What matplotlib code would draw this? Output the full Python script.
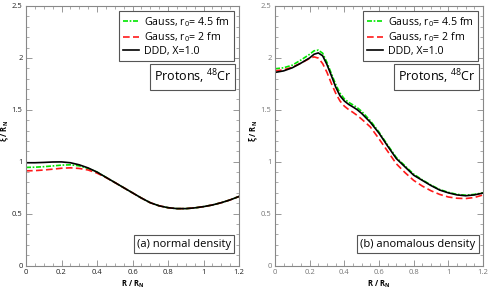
import numpy as np
import matplotlib
matplotlib.use("Agg")
import matplotlib.pyplot as plt
from matplotlib.ticker import MultipleLocator, FormatStrFormatter

plt.rcParams['font.family'] = ['Open Sans', 'DejaVu Sans']
plt.rcParams['mathtext.fontset'] = 'custom'
plt.rcParams['mathtext.rm'] = 'Open Sans'
plt.rcParams['mathtext.it'] = 'Open Sans'
plt.rcParams['mathtext.bf'] = 'Open Sans:bold'

# (a) normal density
r_a = [0, 0.05, 0.1, 0.15, 0.2, 0.25, 0.3, 0.35, 0.4, 0.45, 0.5, 0.55, 0.6,
       0.65, 0.7, 0.75, 0.8, 0.85, 0.9, 0.95, 1.0, 1.05, 1.1, 1.15, 1.2]
ddd_a = [0.99, 0.99, 0.993, 0.997, 0.998, 0.99, 0.97, 0.94, 0.90, 0.85, 0.80,
         0.75, 0.70, 0.65, 0.605, 0.575, 0.557, 0.548, 0.548, 0.555, 0.567,
         0.583, 0.605, 0.632, 0.665]
gauss45_a = [0.945, 0.947, 0.952, 0.959, 0.967, 0.97, 0.96, 0.935, 0.90, 0.85, 0.80,
             0.75, 0.70, 0.65, 0.605, 0.575, 0.557, 0.548, 0.548, 0.555, 0.567,
             0.583, 0.605, 0.632, 0.665]
gauss2_a = [0.912, 0.914, 0.92, 0.928, 0.937, 0.941, 0.935, 0.92, 0.89, 0.848, 0.80,
            0.75, 0.70, 0.65, 0.605, 0.575, 0.557, 0.548, 0.548, 0.555, 0.567,
            0.583, 0.605, 0.632, 0.665]

# (b) anomalous density
r_b = [0, 0.05, 0.1, 0.15, 0.2, 0.225, 0.25, 0.275, 0.3, 0.325, 0.35, 0.375, 0.4,
       0.425, 0.45, 0.475, 0.5, 0.55, 0.6, 0.65, 0.7, 0.75, 0.8, 0.85, 0.9, 0.95,
       1.0, 1.05, 1.1, 1.15, 1.2]
ddd_b = [1.86, 1.875, 1.905, 1.95, 2.0, 2.035, 2.048, 2.02, 1.935, 1.83, 1.72, 1.635,
         1.585, 1.552, 1.527, 1.50, 1.465, 1.38, 1.275, 1.15, 1.03, 0.95, 0.87, 0.82,
         0.77, 0.727, 0.70, 0.68, 0.672, 0.68, 0.698]
gauss45_b = [1.895, 1.905, 1.93, 1.98, 2.035, 2.068, 2.075, 2.045, 1.955, 1.85, 1.745,
             1.66, 1.605, 1.572, 1.547, 1.52, 1.485, 1.395, 1.285, 1.16, 1.04, 0.96,
             0.88, 0.825, 0.775, 0.732, 0.705, 0.685, 0.677, 0.685, 0.70]
gauss2_b = [1.875, 1.885, 1.91, 1.95, 1.995, 2.01, 1.998, 1.945, 1.86, 1.755, 1.66,
            1.585, 1.535, 1.502, 1.475, 1.445, 1.41, 1.335, 1.22, 1.10, 0.98, 0.895,
            0.82, 0.765, 0.72, 0.685, 0.66, 0.648, 0.645, 0.655, 0.68]

labels = ["Gauss, r$_0$= 4.5 fm", "Gauss, r$_0$= 2 fm", "DDD, X=1.0"]

fig = plt.figure(figsize=(4.91, 2.95), dpi=100)
ax1 = fig.add_axes([26/491, 29.5/295, 213/491, 259.5/295])
ax2 = fig.add_axes([275/491, 29.5/295, 208/491, 259.5/295])

panels = [
    (ax1, r_a, gauss45_a, gauss2_a, ddd_a, "(a) normal density", "#222222"),
    (ax2, r_b, gauss45_b, gauss2_b, ddd_b, "(b) anomalous density", "#777777"),
]

for ax, r, g45, g2, ddd, tag, tickcol in panels:
    ax.plot(r, g45, color="#00e600", ls=(0, (3, 1, 1, 1)), lw=1.2, label=labels[0])
    ax.plot(r, g2, color="#ff1a1a", ls=(0, (4, 2)), lw=1.2, label=labels[1])
    ax.plot(r, ddd, color="black", lw=1.2, label=labels[2])

    ax.set_xlim(0, 1.2)
    ax.set_ylim(0, 2.5)
    ax.xaxis.set_major_locator(MultipleLocator(0.2))
    ax.xaxis.set_minor_locator(MultipleLocator(0.05))
    ax.yaxis.set_major_locator(MultipleLocator(0.5))
    ax.yaxis.set_minor_locator(MultipleLocator(0.1))
    ax.xaxis.set_major_formatter(FormatStrFormatter('%g'))
    ax.yaxis.set_major_formatter(FormatStrFormatter('%g'))
    ax.tick_params(which='both', direction='in', top=True, right=True,
                   colors='#888888', labelcolor=tickcol, labelsize=5.5, pad=2.5)
    ax.tick_params(which='major', length=4, width=0.6)
    ax.tick_params(which='minor', length=2, width=0.5)
    for s in ax.spines.values():
        s.set_color('#888888')
        s.set_linewidth(0.8)

    ax.set_xlabel("R / R$_\\mathbf{N}$", fontsize=5.5, fontweight='bold', labelpad=2)
    ax.set_ylabel("ξ / R$_\\mathbf{N}$", fontsize=5.5, fontweight='bold')
    ax.yaxis.set_label_coords(-15 / 213, 0.52)

    leg = ax.legend(loc='upper right', fontsize=7.7, fancybox=False, framealpha=1,
                    edgecolor='#555555', handlelength=1.5, handletextpad=0.5,
                    borderpad=0.35, labelspacing=0.15, borderaxespad=0.5)
    leg.get_frame().set_linewidth(0.8)

    ax.text(0.963, 0.727, "Protons, $^{48}$Cr", transform=ax.transAxes,
            ha='right', va='center', fontsize=9,
            bbox=dict(boxstyle='square,pad=0.3', fc='white', ec='#555555', lw=0.8))
    ax.text(0.963, 0.082, tag, transform=ax.transAxes,
            ha='right', va='center', fontsize=8,
            bbox=dict(boxstyle='square,pad=0.3', fc='white', ec='#555555', lw=0.8))

fig.savefig("out.png", dpi=100)
